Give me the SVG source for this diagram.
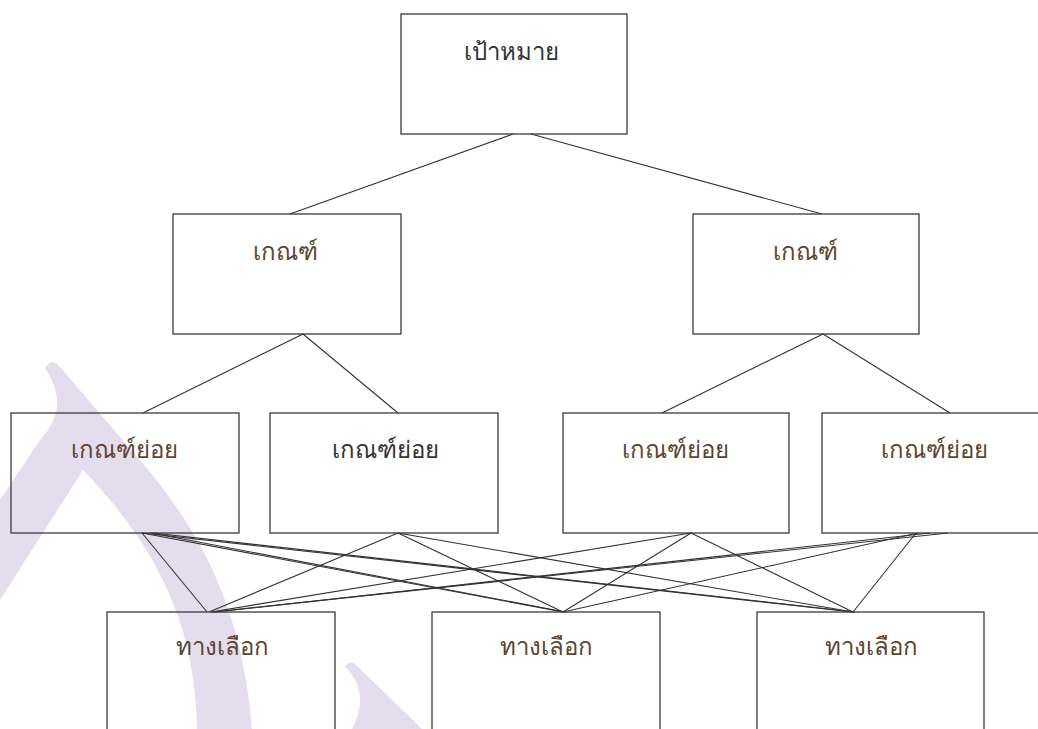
<svg xmlns="http://www.w3.org/2000/svg" width="1038" height="729" viewBox="0 0 1038 729">
<style>
.box{fill:none;stroke:#3a3a3a;stroke-width:1.3}
.lbl{font-family:"Liberation Sans","Noto Sans","DejaVu Sans",sans-serif;font-size:24px;text-anchor:middle}
.brown{fill:#5e4530}
.dark{fill:#333333}
.wm{fill:#e3dded;stroke:none}
#connectors line{stroke:#333;stroke-width:1.1}
</style>
<rect width="1038" height="729" fill="#ffffff"/>
<g id="watermark">
<path class="wm" d="M45,368 C50,360 55,361 60,367 L120,437 C180,505 240,580 252,729 L197,729 C195,640 170,560 83,470 L0,600 L0,500 L40,440 C62,415 62,395 45,368 Z"/>
<path class="wm" d="M345,667 C348,661 352,661 356,665 L422,729 L352,729 C365,705 362,682 345,667 Z"/>
</g>
<g id="connectors">
<line x1="513" y1="134" x2="290" y2="214"/>
<line x1="531" y1="134" x2="822" y2="214"/>
<line x1="303" y1="334" x2="143" y2="413"/>
<line x1="303" y1="334" x2="398" y2="413"/>
<line x1="823" y1="334" x2="662" y2="413"/>
<line x1="823" y1="334" x2="950" y2="413"/>
<line x1="142" y1="533" x2="207" y2="612"/>
<line x1="142" y1="533" x2="563" y2="612"/>
<line x1="151" y1="533" x2="565" y2="612"/>
<line x1="142" y1="533" x2="853" y2="612"/>
<line x1="153" y1="533" x2="855" y2="612"/>
<line x1="398" y1="533" x2="209" y2="612"/>
<line x1="398" y1="533" x2="563" y2="612"/>
<line x1="398" y1="533" x2="853" y2="612"/>
<line x1="691" y1="533" x2="211" y2="612"/>
<line x1="691" y1="533" x2="563" y2="612"/>
<line x1="691" y1="533" x2="853" y2="612"/>
<line x1="916" y1="533" x2="853" y2="612"/>
<line x1="918" y1="533" x2="563" y2="612"/>
<line x1="948" y1="533" x2="213" y2="612"/>
<line x1="930" y1="533" x2="215" y2="612"/>
</g>
<g id="goal">
<rect class="box" x="401" y="14" width="226" height="120"/>
<text class="lbl dark" x="511" y="60">เป้าหมาย</text>
</g>
<g id="criterion1">
<rect class="box" x="173" y="214" width="228" height="120"/>
<text class="lbl brown" x="285" y="260">เกณฑ์</text>
</g>
<g id="criterion2">
<rect class="box" x="693" y="214" width="226" height="120"/>
<text class="lbl brown" x="805" y="260">เกณฑ์</text>
</g>
<g id="sub1">
<rect class="box" x="11" y="413" width="228" height="120"/>
<text class="lbl brown" x="124" y="458">เกณฑ์ย่อย</text>
</g>
<g id="sub2">
<rect class="box" x="270" y="413" width="228" height="120"/>
<text class="lbl dark" x="385" y="458">เกณฑ์ย่อย</text>
</g>
<g id="sub3">
<rect class="box" x="563" y="413" width="226" height="120"/>
<text class="lbl brown" x="675" y="458">เกณฑ์ย่อย</text>
</g>
<g id="sub4">
<rect class="box" x="822" y="413" width="228" height="120"/>
<text class="lbl brown" x="934" y="458">เกณฑ์ย่อย</text>
</g>
<g id="alt1">
<rect class="box" x="107" y="612" width="228" height="130"/>
<text class="lbl brown" x="222" y="655">ทางเลือก</text>
</g>
<g id="alt2">
<rect class="box" x="432" y="612" width="228" height="130"/>
<text class="lbl brown" x="546" y="655">ทางเลือก</text>
</g>
<g id="alt3">
<rect class="box" x="757" y="612" width="227" height="130"/>
<text class="lbl brown" x="871" y="655">ทางเลือก</text>
</g>
</svg>
